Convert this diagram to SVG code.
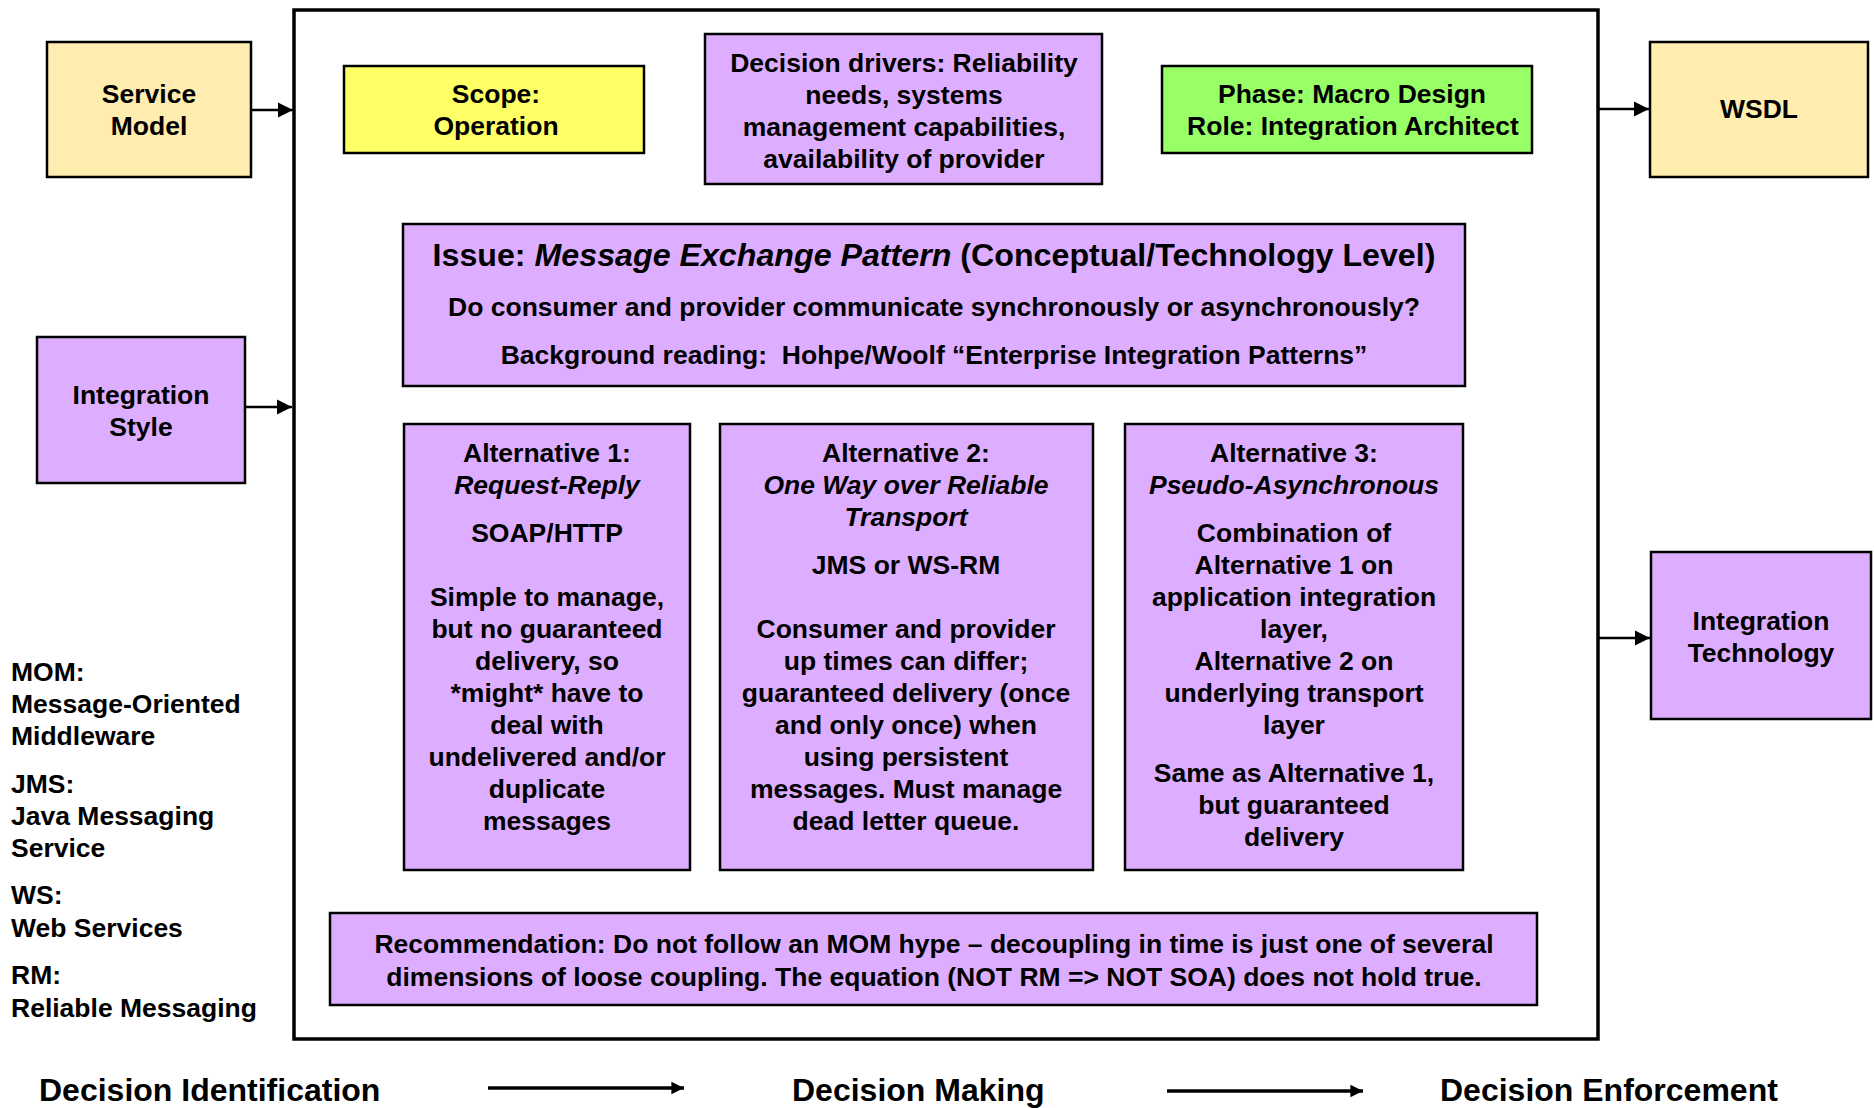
<svg xmlns="http://www.w3.org/2000/svg" width="1874" height="1108" viewBox="0 0 1874 1108">
<style>
text{font-family:"Liberation Sans",Arial,sans-serif;font-weight:bold;fill:#000;}
.t{font-size:26.5px;text-anchor:middle;}
.l{font-size:26.5px;}
.big{font-size:32px;}
.i{font-style:italic;}
.box{stroke:#000;stroke-width:2.5;}
.cream{fill:#FFECAF;}
.purple{fill:#DDAEFF;}
.yellow{fill:#FFFF66;}
.green{fill:#99FF66;}
.conn{stroke:#000;stroke-width:2.5;fill:none;}
.flow{stroke:#000;stroke-width:3.5;fill:none;}
</style>
<defs>
<marker id="ah" viewBox="0 0 10 10" refX="10" refY="5" markerWidth="6" markerHeight="6.4" markerUnits="strokeWidth" orient="auto">
<path d="M0,0 L10,5 L0,10 z" fill="#000"/>
</marker>
<marker id="ah2" viewBox="0 0 10 10" refX="10" refY="5" markerWidth="3.6" markerHeight="4.2" markerUnits="strokeWidth" orient="auto">
<path d="M0,0 L10,5 L0,10 z" fill="#000"/>
</marker>
</defs>
<rect width="1874" height="1108" fill="#fff"/>

<g id="frame">
<rect x="294" y="10" width="1304" height="1029" fill="none" stroke="#000" stroke-width="3.5"/>
</g>

<g id="service-model">
<rect class="box cream" x="47" y="42" width="204" height="135"/>
<text class="t" x="149" y="103">Service</text>
<text class="t" x="149" y="135">Model</text>
</g>

<g id="scope">
<rect class="box yellow" x="344" y="66" width="300" height="87"/>
<text class="t" x="496" y="103">Scope:</text>
<text class="t" x="496" y="135">Operation</text>
</g>

<g id="drivers">
<rect class="box purple" x="705" y="34" width="397" height="150"/>
<text class="t" x="904" y="72">Decision drivers: Reliability</text>
<text class="t" x="904" y="104">needs, systems</text>
<text class="t" x="904" y="136">management capabilities,</text>
<text class="t" x="904" y="168">availability of provider</text>
</g>

<g id="phase">
<rect class="box green" x="1162" y="66" width="370" height="87"/>
<text class="t" x="1352" y="103">Phase: Macro Design</text>
<text class="t" x="1353" y="135">Role: Integration Architect</text>
</g>

<g id="wsdl">
<rect class="box cream" x="1650" y="42" width="218" height="135"/>
<text class="t" x="1759" y="118">WSDL</text>
</g>

<g id="integration-style">
<rect class="box purple" x="37" y="337" width="208" height="146"/>
<text class="t" x="141" y="404">Integration</text>
<text class="t" x="141" y="436">Style</text>
</g>

<g id="issue">
<rect class="box purple" x="403" y="224" width="1062" height="162"/>
<text class="t" x="934" y="266" style="font-size:32.2px"><tspan>Issue: </tspan><tspan class="i">Message Exchange Pattern</tspan><tspan> (Conceptual/Technology Level)</tspan></text>
<text class="t" x="934" y="316">Do consumer and provider communicate synchronously or asynchronously?</text>
<text class="t" x="934" y="364" style="white-space:pre">Background reading:  Hohpe/Woolf “Enterprise Integration Patterns”</text>
</g>

<g id="alt1">
<rect class="box purple" x="404" y="424" width="286" height="446"/>
<text class="t" x="547" y="462">Alternative 1:</text>
<text class="t i" x="547" y="494">Request-Reply</text>
<text class="t" x="547" y="542">SOAP/HTTP</text>
<text class="t" x="547" y="606">Simple to manage,</text>
<text class="t" x="547" y="638">but no guaranteed</text>
<text class="t" x="547" y="670">delivery, so</text>
<text class="t" x="547" y="702">*might* have to</text>
<text class="t" x="547" y="734">deal with</text>
<text class="t" x="547" y="766">undelivered and/or</text>
<text class="t" x="547" y="798">duplicate</text>
<text class="t" x="547" y="830">messages</text>
</g>

<g id="alt2">
<rect class="box purple" x="720" y="424" width="373" height="446"/>
<text class="t" x="906" y="462">Alternative 2:</text>
<text class="t i" x="906" y="494">One Way over Reliable</text>
<text class="t i" x="906" y="526">Transport</text>
<text class="t" x="906" y="574">JMS or WS-RM</text>
<text class="t" x="906" y="638">Consumer and provider</text>
<text class="t" x="906" y="670">up times can differ;</text>
<text class="t" x="906" y="702">guaranteed delivery (once</text>
<text class="t" x="906" y="734">and only once) when</text>
<text class="t" x="906" y="766">using persistent</text>
<text class="t" x="906" y="798">messages. Must manage</text>
<text class="t" x="906" y="830">dead letter queue.</text>
</g>

<g id="alt3">
<rect class="box purple" x="1125" y="424" width="338" height="446"/>
<text class="t" x="1294" y="462">Alternative 3:</text>
<text class="t i" x="1294" y="494">Pseudo-Asynchronous</text>
<text class="t" x="1294" y="542">Combination of</text>
<text class="t" x="1294" y="574">Alternative 1 on</text>
<text class="t" x="1294" y="606">application integration</text>
<text class="t" x="1294" y="638">layer,</text>
<text class="t" x="1294" y="670">Alternative 2 on</text>
<text class="t" x="1294" y="702">underlying transport</text>
<text class="t" x="1294" y="734">layer</text>
<text class="t" x="1294" y="782">Same as Alternative 1,</text>
<text class="t" x="1294" y="814">but guaranteed</text>
<text class="t" x="1294" y="846">delivery</text>
</g>

<g id="integration-technology">
<rect class="box purple" x="1651" y="552" width="220" height="167"/>
<text class="t" x="1761" y="630">Integration</text>
<text class="t" x="1761" y="662">Technology</text>
</g>

<g id="recommendation">
<rect class="box purple" x="330" y="913" width="1207" height="92"/>
<text class="t" x="934" y="953">Recommendation: Do not follow an MOM hype – decoupling in time is just one of several</text>
<text class="t" x="934" y="986">dimensions of loose coupling. The equation (NOT RM =&gt; NOT SOA) does not hold true.</text>
</g>

<g id="legend">
<text class="l" x="11" y="681">MOM:</text>
<text class="l" x="11" y="713">Message-Oriented</text>
<text class="l" x="11" y="745">Middleware</text>
<text class="l" x="11" y="793">JMS:</text>
<text class="l" x="11" y="825">Java Messaging</text>
<text class="l" x="11" y="857">Service</text>
<text class="l" x="11" y="904">WS:</text>
<text class="l" x="11" y="937">Web Services</text>
<text class="l" x="11" y="984">RM:</text>
<text class="l" x="11" y="1017">Reliable Messaging</text>
</g>

<g id="phases">
<text class="big" x="39" y="1101">Decision Identification</text>
<text class="big" x="792" y="1101">Decision Making</text>
<text class="big" x="1440" y="1101">Decision Enforcement</text>
</g>

<g id="connectors">
<line class="conn" x1="251" y1="110" x2="293" y2="110" marker-end="url(#ah)"/>
<line class="conn" x1="245" y1="407" x2="292" y2="407" marker-end="url(#ah)"/>
<line class="conn" x1="1598" y1="109" x2="1649" y2="109" marker-end="url(#ah)"/>
<line class="conn" x1="1598" y1="638" x2="1650" y2="638" marker-end="url(#ah)"/>
<line class="flow" x1="488" y1="1088" x2="684" y2="1088" marker-end="url(#ah2)"/>
<line class="flow" x1="1167" y1="1091" x2="1363" y2="1091" marker-end="url(#ah2)"/>
</g>
</svg>
